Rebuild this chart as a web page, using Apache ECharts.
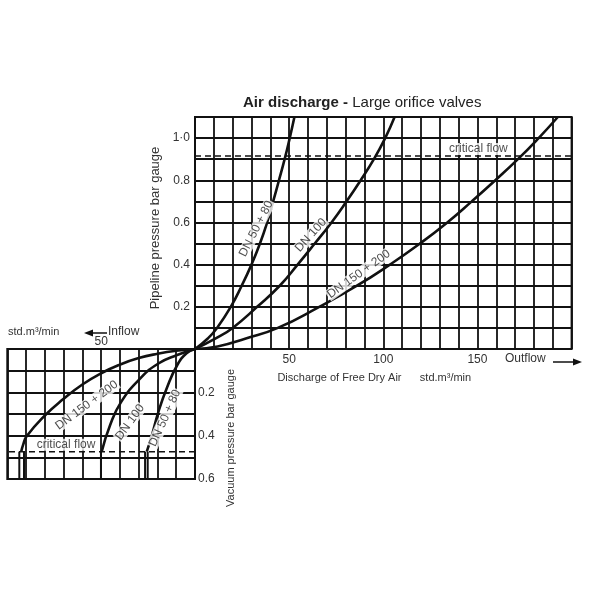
<!DOCTYPE html>
<html>
<head>
<meta charset="utf-8">
<script src="https://cdn.jsdelivr.net/npm/echarts@6/dist/echarts.min.js"></script>
<style>
  html, body { margin: 0; padding: 0; background: #fff; }
  #chart { width: 600px; height: 600px; }
</style>
</head>
<body>
<div id="chart"></div>
<script>
// outflow (pipeline pressure) curves: [std.m3/min, bar gauge]
const pipeDN50 = [[0,0],[6.8,0.05],[11.7,0.1],[19,0.2],[24.8,0.3],[30,0.4],[34.5,0.5],[38.3,0.6],[41.5,0.7],[44.6,0.8],[47.6,0.9],[50.3,1.0],[52.8,1.1]]
const pipeDN100 = [[0,0],[11,0.05],[20,0.1],[33,0.2],[45,0.3],[54.5,0.4],[63.6,0.5],[72.5,0.6],[80.5,0.7],[88,0.8],[95,0.9],[101,1.0],[106,1.1]]
const pipeDN150 = [[0,0],[12,0.012],[27,0.05],[44,0.1],[66,0.2],[86,0.3],[103.5,0.4],[119.5,0.5],[134,0.6],[147,0.7],[159.5,0.8],[171.5,0.9],[182.5,1.0],[192.7,1.1]]

// inflow (vacuum) curves
const vacDN50 = [[0,0],[4.5,0.02],[9.5,0.075],[15,0.18],[19.5,0.29],[23,0.4],[25.7,0.474]]
const vacDN100 = [[0,0],[9.5,0.028],[19.5,0.067],[29.3,0.137],[39.4,0.245],[45.3,0.353],[49.7,0.474]]
const vacDN150 = [[0,0],[10,0.008],[20,0.022],[30,0.042],[40,0.072],[50,0.112],[60,0.164],[70,0.23],[80,0.307],[89.7,0.403],[91.5,0.44],[92.6,0.474]]
const vacDrops = [93.6, 91.1, 50.1, 26.6, 25.2]

const criticalPipe = 0.915
const criticalVac = 0.474

const pipeXLabels = [50, 100, 150]
const pipeYLabels = {2: '0.2', 4: '0.4', 6: '0.6', 8: '0.8', 10: '1·0'}
const vacXLabels = [50]
const vacYLabels = {2: '0.2', 4: '0.4', 6: '0.6'}

// curve names: [text, x, y, rotate]
const pipeNames = [['DN 50 + 80', 32.5, 0.57, 63], ['DN 100', 61.5, 0.54, 48], ['DN 150 + 200', 87, 0.355, 35.5]]
const vacNames = [['DN 150 + 200', 57.7, 0.26, 36.5], ['DN 100', 34.6, 0.338, 54], ['DN 50 + 80', 16, 0.319, 65.5]]

const font = 'Liberation Sans'
const ink = '#111'

function curve(data, xi) {
  return {
    type: 'line', xAxisIndex: xi, yAxisIndex: xi, data: data,
    smooth: 0.5, symbol: 'none', silent: true,
    lineStyle: {color: ink, width: 2.6}, z: 3
  }
}

function nameSeries(list, xi) {
  return {
    type: 'scatter', xAxisIndex: xi, yAxisIndex: xi, symbolSize: 0, silent: true, z: 4,
    data: list.map(function (n) {
      return {value: [n[1], n[2]], name: n[0], label: {rotate: n[3]}}
    }),
    label: {
      show: true, position: 'inside', formatter: '{b}',
      fontFamily: font, fontSize: 12, color: '#222',
      backgroundColor: '#fff', padding: [0, 1]
    }
  }
}

function critLabel(x, y, xi) {
  return {
    type: 'scatter', xAxisIndex: xi, yAxisIndex: xi, symbolSize: 0, silent: true, z: 4,
    data: [[x, y]],
    label: {show: true, position: 'top', distance: 1, formatter: 'critical flow', fontFamily: font, fontSize: 12, color: '#222', backgroundColor: '#fff', padding: [0, 1]}
  }
}

let series = [
  curve(pipeDN50, 0), curve(pipeDN100, 0), curve(pipeDN150, 0),
  curve(vacDN50, 1), curve(vacDN100, 1), curve(vacDN150, 1),
  nameSeries(pipeNames, 0), nameSeries(vacNames, 1),
  {
    type: 'line', xAxisIndex: 0, yAxisIndex: 0, symbol: 'none', silent: true, z: 3,
    data: [[0, criticalPipe], [200, criticalPipe]],
    lineStyle: {color: ink, width: 1.6, type: [6, 4]}
  },
  {
    type: 'line', xAxisIndex: 1, yAxisIndex: 1, symbol: 'none', silent: true, z: 3,
    data: [[0, criticalVac], [100, criticalVac]],
    lineStyle: {color: ink, width: 1.6, type: [6, 4]}
  },
  critLabel(150.5, criticalPipe, 0),
  critLabel(68.7, criticalVac, 1)
]
vacDrops.forEach(function (x) {
  series.push({
    type: 'line', xAxisIndex: 1, yAxisIndex: 1, symbol: 'none', silent: true, z: 3,
    data: [[x, criticalVac], [x, 0.6]],
    lineStyle: {color: ink, width: 2}
  })
})

const chart = echarts.init(document.getElementById('chart'))
chart.setOption({
  animation: false,
  title: {
    left: 238, top: 90,
    text: '{b|Air discharge - }{n|Large orifice valves}',
    textStyle: {
      fontWeight: 'normal',
      rich: {
        b: {fontFamily: font, fontSize: 15, fontWeight: 'bold', color: '#222'},
        n: {fontFamily: font, fontSize: 15, fontWeight: 'normal', color: '#222'}
      }
    }
  },
  grid: [
    {left: 195, top: 117, width: 376.6, height: 232, show: true, borderColor: ink, borderWidth: 2},
    {left: 7.3, top: 349, width: 187.7, height: 130, show: true, borderColor: ink, borderWidth: 2}
  ],
  xAxis: [
    {
      gridIndex: 0, type: 'value', min: 0, max: 200, interval: 10,
      name: 'Discharge of Free Dry Air      std.m³/min', nameLocation: 'middle', nameGap: 23,
      nameTextStyle: {fontFamily: font, fontSize: 11, color: '#333', padding: [0, 18, 0, 0]},
      axisLine: {show: false}, axisTick: {show: false},
      axisLabel: {
        margin: 5, fontFamily: font, fontSize: 12, color: '#333',
        formatter: function (v) { return pipeXLabels.indexOf(v) >= 0 ? String(v) : '' }
      },
      splitLine: {lineStyle: {color: ink, width: 1.8}}
    },
    {
      gridIndex: 1, type: 'value', min: 0, max: 100, interval: 10, inverse: true, position: 'top',
      axisLine: {show: false}, axisTick: {show: false},
      axisLabel: {
        margin: 1, fontFamily: font, fontSize: 12, color: '#333',
        formatter: function (v) { return vacXLabels.indexOf(v) >= 0 ? String(v) : '' }
      },
      splitLine: {lineStyle: {color: ink, width: 1.8}}
    }
  ],
  yAxis: [
    {
      gridIndex: 0, type: 'value', min: 0, max: 1.1, interval: 0.1,
      name: 'Pipeline pressure bar gauge', nameLocation: 'middle', nameGap: 23, nameRotate: 90,
      nameTextStyle: {fontFamily: font, fontSize: 13, color: '#333', padding: [0, 0, 0, 10]},
      axisLine: {show: false}, axisTick: {show: false},
      axisLabel: {
        margin: 5, fontFamily: font, fontSize: 12, color: '#333', padding: [0, 0, 7, 0],
        formatter: function (v) { return pipeYLabels[Math.round(v * 10)] || '' }
      },
      splitLine: {lineStyle: {color: ink, width: 1.8}}
    },
    {
      gridIndex: 1, type: 'value', min: 0, max: 0.6, interval: 0.1, inverse: true, position: 'right',
      name: 'Vacuum pressure bar gauge', nameLocation: 'middle', nameGap: 30, nameRotate: 90,
      nameTextStyle: {fontFamily: font, fontSize: 11, color: '#333', padding: [0, 48, 0, 0]},
      axisLine: {show: false}, axisTick: {show: false},
      axisLabel: {
        margin: 3, fontFamily: font, fontSize: 12, color: '#333',
        formatter: function (v) { return vacYLabels[Math.round(v * 10)] || '' }
      },
      splitLine: {lineStyle: {color: ink, width: 1.8}}
    }
  ],
  graphic: [
    {type: 'text', left: 505, top: 353, style: {text: 'Outflow', font: '12px "Liberation Sans"', fill: '#333'}},
    {type: 'line', shape: {x1: 553, y1: 362, x2: 574, y2: 362}, style: {stroke: ink, lineWidth: 1.5}},
    {type: 'polygon', shape: {points: [[582, 362], [573, 358.5], [573, 365.5]]}, style: {fill: ink}},
    {type: 'text', left: 8, top: 326, style: {text: 'std.m³/min', font: '11px "Liberation Sans"', fill: '#333'}},
    {type: 'line', shape: {x1: 92, y1: 333, x2: 107, y2: 333}, style: {stroke: ink, lineWidth: 1.5}},
    {type: 'polygon', shape: {points: [[84, 333], [93, 329.5], [93, 336.5]]}, style: {fill: ink}},
    {type: 'text', left: 108, top: 326, style: {text: 'Inflow', font: '12px "Liberation Sans"', fill: '#333'}}
  ],
  series: series
})
</script>
</body>
</html>
